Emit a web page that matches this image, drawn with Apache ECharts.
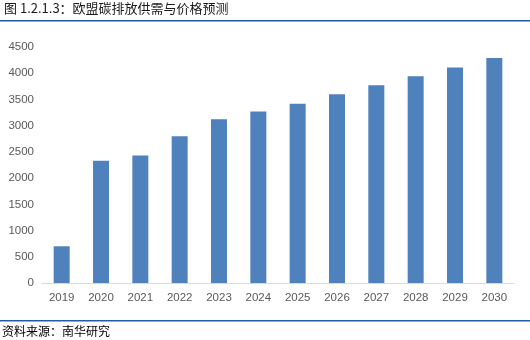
<!DOCTYPE html>
<html><head><meta charset="utf-8">
<script src="https://cdn.jsdelivr.net/npm/echarts@6/dist/echarts.min.js"></script>
<style>html,body{margin:0;padding:0;background:#fff}#c{width:530px;height:340px}</style>
</head><body><div id="c"></div>
<script>
var categories = ['2019','2020','2021','2022','2023','2024','2025','2026','2027','2028','2029','2030'];
var values = [700, 2330, 2430, 2800, 3120, 3270, 3420, 3600, 3770, 3940, 4110, 4290];
var yTicks = [0, 500, 1000, 1500, 2000, 2500, 3000, 3500, 4000, 4500];
var titleText = '图 1.2.1.3：欧盟碳排放供需与价格预测';
var sourceText = '资料来源：南华研究';

var chart = echarts.init(document.getElementById('c'), null, {renderer:'canvas'});
chart.setOption({
  animation:false,
  backgroundColor:'#fff',
  textStyle:{fontFamily:'"Noto Sans CJK SC", sans-serif'},
  grid:{left:42, right:16, top:47, height:236},
  xAxis:{type:'category', data:categories,
    axisLine:{lineStyle:{color:'#d9d9d9', width:1}},
    axisTick:{show:false},
    axisLabel:{color:'#595959', fontSize:11.5, margin:9, fontFamily:'"Liberation Sans", sans-serif'}},
  yAxis:{type:'value', min:yTicks[0], max:yTicks[yTicks.length-1], interval:500,
    splitLine:{show:false}, axisLine:{show:false}, axisTick:{show:false},
    axisLabel:{color:'#595959', fontSize:11.5, margin:8, fontFamily:'"Liberation Sans", sans-serif',
      formatter:function(v){return String(v);}}},
  series:[{type:'bar', data:values, barWidth:16, itemStyle:{color:'#4f81bd'}}],
  graphic:[
    {type:'text', left:4, top:2, style:{text:titleText, font:'13px "Noto Sans CJK SC", sans-serif', fill:'#1a1a1a'}},
    {type:'rect', shape:{x:0, y:20, width:530, height:1.5}, style:{fill:'#1f5ca3'}},
    {type:'rect', shape:{x:0, y:320, width:530, height:1.5}, style:{fill:'#1f5ca3'}},
    {type:'text', left:2, top:325, style:{text:sourceText, font:'12px "Noto Sans CJK SC", sans-serif', fill:'#000'}}
  ]
});
</script></body></html>
